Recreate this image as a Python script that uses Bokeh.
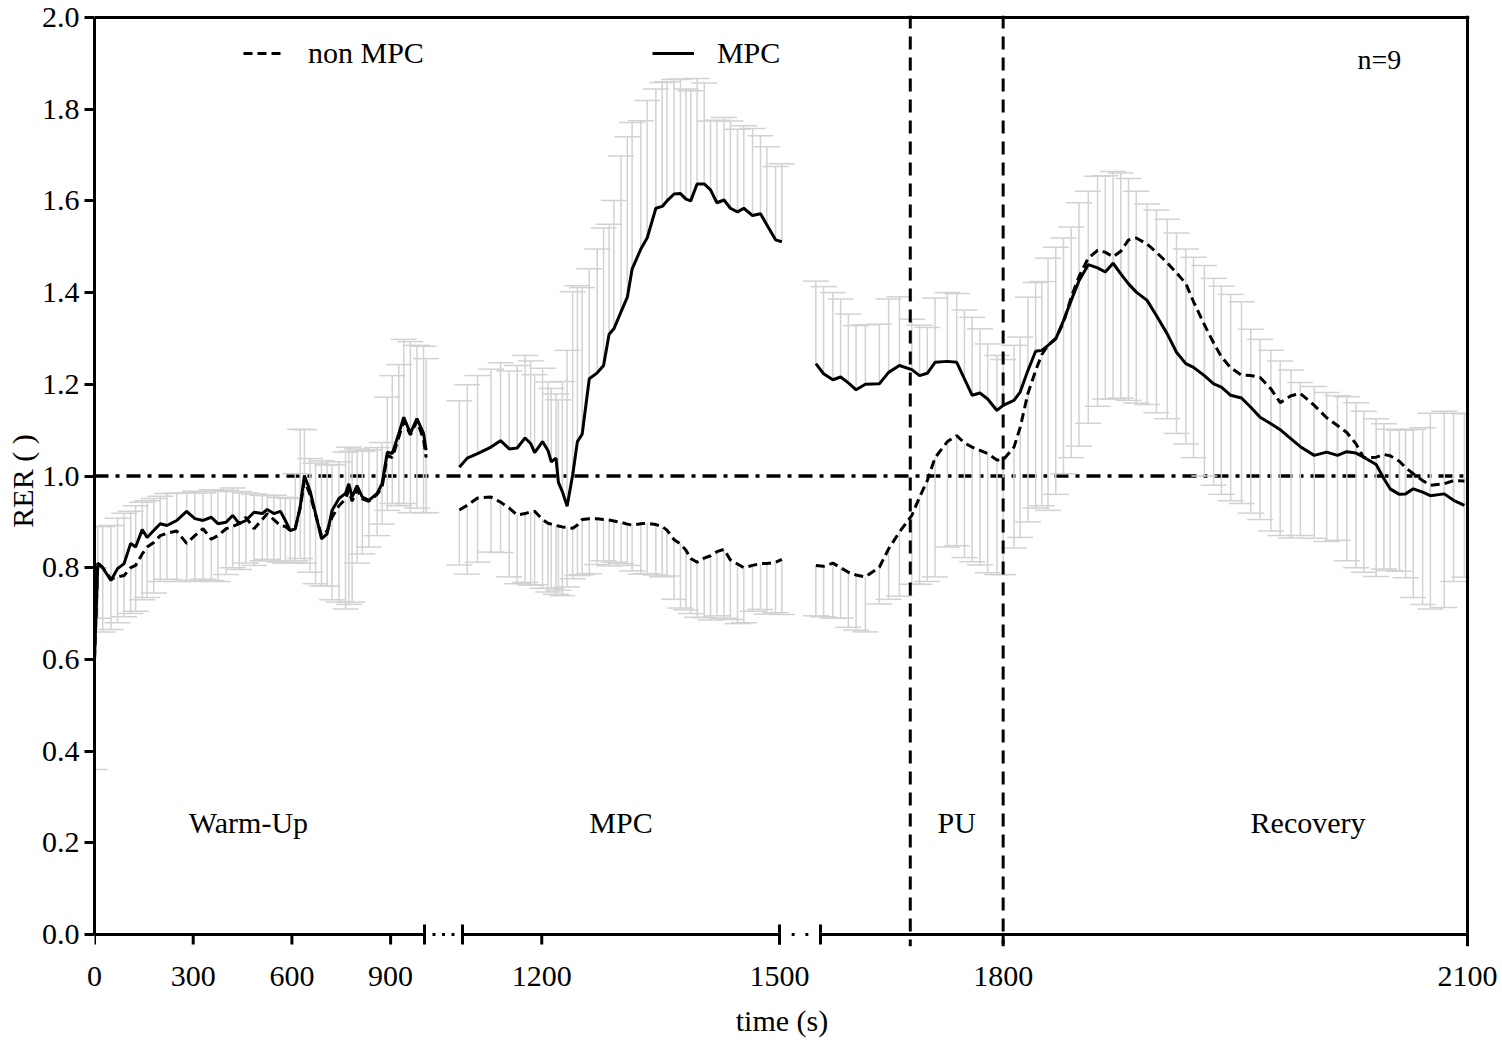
import numpy as np
from bokeh.plotting import figure
from bokeh.models import (ColumnDataSource, Whisker, TeeHead, Span, FixedTicker,
                          NumeralTickFormatter, Legend, LegendItem, Range1d)
from bokeh.core.properties import value
from bokeh.embed import file_html
from bokeh.resources import INLINE

FONT = "Liberation Serif"
GRAY = "#d2d2d2"

# ---------------- data (time in s, RER) ----------------
t_warm = [0, 10, 25, 50, 70, 90, 110, 125, 145, 160, 180, 200, 220, 250, 280, 305, 330, 355, 375, 400,
          420, 440, 460, 485, 510, 525, 545, 565, 580, 595, 610, 625, 638, 655, 672, 690, 707, 722, 743, 763,
          773, 783, 798, 814, 834, 859, 874, 890, 905, 925, 940, 960, 980, 1000, 1008]
mpc_warm = [0.60, 0.81, 0.80, 0.772, 0.798, 0.809, 0.853, 0.845, 0.883, 0.866, 0.881, 0.896, 0.892, 0.903,
            0.923, 0.907, 0.903, 0.910, 0.896, 0.899, 0.914, 0.896, 0.903, 0.921, 0.918, 0.927, 0.918, 0.923,
            0.903, 0.881, 0.885, 0.932, 1.001, 0.968, 0.918, 0.863, 0.874, 0.925, 0.951, 0.962, 0.983, 0.954,
            0.979, 0.954, 0.947, 0.962, 0.983, 1.052, 1.049, 1.093, 1.128, 1.093, 1.125, 1.093, 1.056]
mpc_warm_sd = [0.20, 0.08, 0.09, 0.12, 0.11, 0.11, 0.07, 0.09, 0.06, 0.08, 0.07, 0.06, 0.07, 0.06, 0.04,
               0.06, 0.06, 0.06, 0.07, 0.07, 0.06, 0.07, 0.06, 0.04, 0.04, 0.03, 0.04, 0.03, 0.05, 0.07,
               0.12, 0.17, 0.10, 0.07, 0.11, 0.17, 0.15, 0.10, 0.08, 0.09, 0.08, 0.10, 0.08, 0.10, 0.11,
               0.10, 0.09, 0.12, 0.17, 0.15, 0.17, 0.20, 0.16, 0.19, 0.20]
non_warm = [0.60, 0.81, 0.80, 0.775, 0.78, 0.783, 0.80, 0.805, 0.83, 0.845, 0.855, 0.87, 0.875, 0.88, 0.853,
            0.87, 0.885, 0.862, 0.87, 0.885, 0.89, 0.896, 0.91, 0.885, 0.905, 0.918, 0.905, 0.892, 0.89,
            0.881, 0.885, 0.93, 0.99, 0.96, 0.915, 0.87, 0.88, 0.91, 0.935, 0.95, 0.97, 0.945, 0.97, 0.95,
            0.945, 0.96, 0.975, 1.045, 1.04, 1.085, 1.12, 1.09, 1.12, 1.08, 1.04]
non_warm_sd = [0.24, 0.12, 0.14, 0.11, 0.10, 0.09, 0.10, 0.10, 0.10, 0.11, 0.11, 0.10, 0.10, 0.11, 0.08,
               0.10, 0.11, 0.09, 0.10, 0.10, 0.09, 0.10, 0.10, 0.08, 0.09, 0.10, 0.09, 0.08, 0.08, 0.07,
               0.07, 0.11, 0.18, 0.17, 0.15, 0.11, 0.12, 0.18, 0.21, 0.24, 0.25, 0.22, 0.16, 0.12, 0.10,
               0.09, 0.08, 0.12, 0.10, 0.15, 0.18, 0.17, 0.19, 0.16, 0.12]

t_mpc = [1096, 1106, 1119, 1136, 1148, 1159, 1169, 1179, 1186, 1191, 1201, 1208, 1212, 1218, 1221, 1226,
         1232, 1239, 1245, 1251, 1260, 1270, 1278, 1285, 1291, 1300, 1308, 1314, 1325, 1333, 1344, 1352,
         1358, 1367, 1375, 1382, 1388, 1396, 1405, 1413, 1421, 1430, 1438, 1447, 1455, 1466, 1476, 1484,
         1495, 1503]
mpc_mpc = [1.019, 1.039, 1.049, 1.063, 1.077, 1.059, 1.061, 1.083, 1.071, 1.051, 1.075, 1.055, 1.031, 1.039,
           0.986, 0.966, 0.934, 1.002, 1.075, 1.091, 1.212, 1.225, 1.241, 1.309, 1.321, 1.358, 1.390, 1.451,
           1.495, 1.519, 1.584, 1.588, 1.600, 1.615, 1.616, 1.604, 1.600, 1.637, 1.637, 1.624, 1.596, 1.602,
           1.584, 1.576, 1.584, 1.568, 1.572, 1.548, 1.515, 1.511]
mpc_mpc_sd = [0.145, 0.16, 0.17, 0.17, 0.17, 0.17, 0.18, 0.18, 0.18, 0.17, 0.16, 0.15, 0.16, 0.14, 0.18,
              0.24, 0.34, 0.40, 0.34, 0.32, 0.24, 0.27, 0.30, 0.24, 0.28, 0.34, 0.35, 0.32, 0.28, 0.30,
              0.26, 0.27, 0.26, 0.25, 0.25, 0.24, 0.24, 0.23, 0.22, 0.15, 0.18, 0.18, 0.19, 0.18, 0.18,
              0.19, 0.17, 0.17, 0.16, 0.17]
non_mpc = [0.926, 0.936, 0.952, 0.954, 0.943, 0.93, 0.915, 0.918, 0.922, 0.923, 0.905, 0.897, 0.895, 0.892,
           0.891, 0.889, 0.888, 0.886, 0.893, 0.905, 0.907, 0.907, 0.905, 0.904, 0.902, 0.899, 0.895, 0.893,
           0.896, 0.897, 0.894, 0.89, 0.882, 0.861, 0.852, 0.838, 0.82, 0.812, 0.821, 0.826, 0.835, 0.84,
           0.817, 0.808, 0.80, 0.805, 0.809, 0.809, 0.812, 0.818]
non_mpc_sd = [0.12, 0.15, 0.14, 0.12, 0.11, 0.15, 0.15, 0.15, 0.16, 0.16, 0.15, 0.15, 0.14, 0.15, 0.14,
              0.15, 0.13, 0.11, 0.11, 0.12, 0.12, 0.10, 0.09, 0.10, 0.09, 0.09, 0.09, 0.10, 0.11, 0.11,
              0.11, 0.11, 0.10, 0.13, 0.14, 0.13, 0.12, 0.12, 0.13, 0.14, 0.14, 0.15, 0.13, 0.13, 0.12,
              0.10, 0.10, 0.11, 0.11, 0.12]

t_rec = [1679, 1684, 1690, 1695, 1700, 1705, 1711, 1720, 1726, 1733, 1741, 1746, 1751, 1756, 1764, 1770,
         1775, 1780, 1785, 1790, 1796, 1800, 1807, 1811, 1816, 1821, 1825, 1829, 1834, 1839, 1844, 1849,
         1855, 1861, 1866, 1871, 1876, 1881, 1886, 1893, 1899, 1906, 1912, 1918, 1923, 1930, 1936, 1941,
         1947, 1954, 1960, 1966, 1973, 1979, 1986, 1992, 2001, 2009, 2016, 2022, 2028, 2033, 2041, 2046,
         2050, 2056, 2060, 2065, 2071, 2076, 2085, 2091, 2098]
mpc_rec = [1.245, 1.223, 1.210, 1.216, 1.203, 1.188, 1.200, 1.201, 1.226, 1.241, 1.232, 1.219, 1.224, 1.248,
           1.250, 1.248, 1.212, 1.176, 1.181, 1.168, 1.143, 1.154, 1.165, 1.183, 1.230, 1.272, 1.274, 1.285,
           1.299, 1.339, 1.383, 1.426, 1.461, 1.454, 1.445, 1.464, 1.441, 1.419, 1.401, 1.383, 1.350, 1.310,
           1.270, 1.245, 1.237, 1.219, 1.201, 1.194, 1.176, 1.170, 1.150, 1.128, 1.114, 1.101, 1.081, 1.064,
           1.045, 1.052, 1.045, 1.053, 1.050, 1.041, 1.025, 0.994, 0.972, 0.960, 0.961, 0.972, 0.965, 0.957,
           0.961, 0.947, 0.936]
mpc_rec_sd = [0.18, 0.19, 0.19, 0.17, 0.15, 0.14, 0.13, 0.13, 0.16, 0.15, 0.11, 0.11, 0.10, 0.14, 0.15,
              0.15, 0.15, 0.17, 0.14, 0.12, 0.12, 0.10, 0.12, 0.12, 0.16, 0.15, 0.15, 0.19, 0.20, 0.18,
              0.16, 0.17, 0.16, 0.20, 0.21, 0.20, 0.22, 0.23, 0.22, 0.21, 0.23, 0.25, 0.26, 0.25, 0.24,
              0.24, 0.23, 0.22, 0.22, 0.21, 0.17, 0.17, 0.16, 0.15, 0.15, 0.14, 0.15, 0.13, 0.13, 0.12,
              0.11, 0.10, 0.10, 0.12, 0.13, 0.14, 0.14, 0.13, 0.14, 0.18, 0.18, 0.19, 0.20]
non_rec = [0.805, 0.803, 0.810, 0.80, 0.79, 0.784, 0.780, 0.801, 0.841, 0.878, 0.914, 0.954, 0.99, 1.04,
           1.075, 1.088, 1.072, 1.063, 1.056, 1.049, 1.035, 1.035, 1.063, 1.106, 1.18, 1.230, 1.265, 1.285,
           1.30, 1.335, 1.39, 1.435, 1.475, 1.492, 1.488, 1.478, 1.49, 1.515, 1.519, 1.506, 1.488, 1.465,
           1.443, 1.42, 1.38, 1.33, 1.29, 1.26, 1.236, 1.22, 1.219, 1.215, 1.19, 1.16, 1.175, 1.18, 1.154,
           1.127, 1.11, 1.095, 1.07, 1.04, 1.041, 1.047, 1.044, 1.032, 1.018, 1.005, 0.99, 0.98, 0.983,
           0.99, 0.989]
non_rec_sd = [0.11, 0.11, 0.12, 0.11, 0.12, 0.12, 0.12, 0.08, 0.11, 0.14, 0.15, 0.19, 0.22, 0.26, 0.23,
              0.24, 0.25, 0.25, 0.25, 0.26, 0.25, 0.25, 0.22, 0.24, 0.28, 0.30, 0.33, 0.36, 0.34, 0.33,
              0.35, 0.37, 0.36, 0.34, 0.32, 0.31, 0.32, 0.35, 0.36, 0.35, 0.35, 0.34, 0.35, 0.35, 0.34,
              0.33, 0.31, 0.30, 0.29, 0.28, 0.30, 0.31, 0.31, 0.29, 0.31, 0.31, 0.29, 0.27, 0.25, 0.28,
              0.27, 0.25, 0.26, 0.25, 0.25, 0.24, 0.24, 0.27, 0.27, 0.27, 0.27, 0.22, 0.21]

x_tick_times = [0, 300, 600, 900, 1200, 1500, 1800, 2100]
y_ticks = [0.0, 0.2, 0.4, 0.6, 0.8, 1.0, 1.2, 1.4, 1.6, 1.8, 2.0]
phase_names = ["Warm-Up", "MPC", "PU", "Recovery"]
phase_times = [468, 1300, 1770, 1997]
pu_bounds = [1740, 1800]

# ---------------- broken time axis ----------------
# (t_start, t_end, axis_start, axis_end) of each piece of the broken axis, axis units = screen px
SEGMENTS = [(0, 1003, 0, 330), (1100, 1500, 368, 685), (1682, 2100, 726, 1373)]
SEG_LIMITS = [1050, 1600, 1e9]
AX_LEN = 1373
PX_PER_Y = 458.5            # screen px per RER unit
PAD_BOTTOM_PX = 12          # frame room below RER = 0 for the broken axis line
PAD_TOP_PX = 2
PAD_RIGHT_PX = 2


def vx(t):
    t = np.atleast_1d(np.asarray(t, dtype=float))
    out = np.empty_like(t)
    lo = -np.inf
    for (t0, t1, v0, v1), hi in zip(SEGMENTS, SEG_LIMITS):
        m = (t >= lo) & (t < hi)
        out[m] = v0 + (t[m] - t0) * (v1 - v0) / (t1 - t0)
        lo = hi
    return out


def joined(parts):
    out = []
    for i, part in enumerate(parts):
        if i:
            out.append(np.nan)
        out.extend(part)
    return np.array(out, dtype=float)


T = [t_warm, t_mpc, t_rec]
MPC = [mpc_warm, mpc_mpc, mpc_rec]
MPC_SD = [mpc_warm_sd, mpc_mpc_sd, mpc_rec_sd]
NON = [non_warm, non_mpc, non_rec]
NON_SD = [non_warm_sd, non_mpc_sd, non_rec_sd]

t_all = np.concatenate([np.array(a, float) for a in T])
mpc_all = np.concatenate([np.array(a, float) for a in MPC])
mpc_sd_all = np.concatenate([np.array(a, float) for a in MPC_SD])
non_all = np.concatenate([np.array(a, float) for a in NON])
non_sd_all = np.concatenate([np.array(a, float) for a in NON_SD])

W, H = 1500, 1045
FRAME_LEFT, FRAME_TOP = 94, 15
frame_w = AX_LEN + PAD_RIGHT_PX
frame_h = int(2 * PX_PER_Y) + PAD_BOTTOM_PX + PAD_TOP_PX

p = figure(width=W, height=H, output_backend="svg", toolbar_location=None,
           x_range=Range1d(0, AX_LEN + PAD_RIGHT_PX),
           y_range=Range1d(-PAD_BOTTOM_PX / PX_PER_Y, 2.0 + PAD_TOP_PX / PX_PER_Y),
           min_border_left=FRAME_LEFT, min_border_top=FRAME_TOP,
           min_border_right=W - FRAME_LEFT - frame_w, min_border_bottom=H - FRAME_TOP - frame_h)
p.outline_line_color = None
p.grid.visible = False
p.background_fill_color = "white"
p.border_fill_color = "white"

# reference line RER = 1
p.add_layout(Span(location=1.0, dimension="width", line_color="black", line_width=3.5,
                  line_dash="14 7 4 7", level="underlay"))

# error bars (MPC above, non MPC below)
src_m = ColumnDataSource(dict(x=vx(t_all), lo=mpc_all, hi=mpc_all + mpc_sd_all))
src_n = ColumnDataSource(dict(x=vx(t_all), lo=non_all - non_sd_all, hi=non_all))
p.add_layout(Whisker(source=src_m, base="x", lower="lo", upper="hi", line_color=GRAY, line_width=1.5,
                     upper_head=TeeHead(size=26, line_color=GRAY, line_width=1.5), lower_head=None,
                     level="underlay"))
p.add_layout(Whisker(source=src_n, base="x", lower="lo", upper="hi", line_color=GRAY, line_width=1.5,
                     lower_head=TeeHead(size=26, line_color=GRAY, line_width=1.5), upper_head=None,
                     level="underlay"))

# mean curves
x_line = joined([vx(a) for a in T])
r_non = p.line(x_line, joined(NON), line_color="black", line_width=3, line_dash="9 5")
r_mpc = p.line(x_line, joined(MPC), line_color="black", line_width=3)

# phase borders of PU
for tb in pu_bounds:
    p.add_layout(Span(location=float(vx(tb)[0]), dimension="height", line_color="black",
                      line_width=3, line_dash="13 8"))

# frame top / right
p.add_layout(Span(location=2.0, dimension="width", line_color="black", line_width=3))
p.add_layout(Span(location=AX_LEN, dimension="height", line_color="black", line_width=3))

# broken x axis: line pieces, end caps, dots and ticks
tick_len = 10 / PX_PER_Y
cap_half = 10 / PX_PER_Y
p.segment(x0=[float(vx(s[0])[0]) for s in SEGMENTS], x1=[float(vx(s[1])[0]) for s in SEGMENTS],
          y0=[0.0] * 3, y1=[0.0] * 3, line_color="black", line_width=3)
cap_x = [SEGMENTS[0][3], SEGMENTS[1][2], SEGMENTS[1][3], SEGMENTS[2][2]]
p.segment(x0=cap_x, x1=cap_x, y0=[-cap_half] * 4, y1=[cap_half] * 4, line_color="black", line_width=3)
dots = []
for (a, b, n) in [(SEGMENTS[0][3], SEGMENTS[1][2], 3), (SEGMENTS[1][3], SEGMENTS[2][2], 2)]:
    dots += [a + (b - a) * k / (n + 1) for k in range(1, n + 1)]
p.segment(x0=[d - 1.5 for d in dots], x1=[d + 1.5 for d in dots], y0=[0.0] * len(dots),
          y1=[0.0] * len(dots), line_color="black", line_width=3)
xt = [float(v) for v in vx(x_tick_times)]
p.segment(x0=xt, x1=xt, y0=[0.0] * len(xt), y1=[-tick_len] * len(xt), line_color="black", line_width=3)

# x axis (labels only)
xa = p.xaxis[0]
xa.ticker = FixedTicker(ticks=xt)
xa.major_label_overrides = {v: str(t) for v, t in zip(xt, x_tick_times)}
xa.axis_line_color = None
xa.major_tick_line_color = None
xa.major_tick_out = 0
xa.major_tick_in = 0
xa.minor_tick_line_color = None
xa.major_label_text_font = FONT
xa.major_label_text_font_size = "30px"
xa.major_label_text_color = "black"
xa.major_label_standoff = 20
xa.axis_label = "time (s)"
xa.axis_label_text_font = FONT
xa.axis_label_text_font_size = "30px"
xa.axis_label_text_font_style = "normal"
xa.axis_label_text_color = "black"
xa.axis_label_standoff = 15

# y axis
ya = p.yaxis[0]
ya.ticker = FixedTicker(ticks=y_ticks)
ya.formatter = NumeralTickFormatter(format="0.0")
ya.bounds = (0, 2)
ya.axis_line_width = 3
ya.axis_line_color = "black"
ya.major_tick_out = 10
ya.major_tick_in = 0
ya.major_tick_line_width = 3
ya.minor_tick_line_color = None
ya.major_label_text_font = FONT
ya.major_label_text_font_size = "30px"
ya.major_label_text_color = "black"
ya.major_label_standoff = 5
ya.axis_label = "RER ( )"
ya.axis_label_text_font = FONT
ya.axis_label_text_font_size = "30px"
ya.axis_label_text_font_style = "normal"
ya.axis_label_text_color = "black"
ya.axis_label_standoff = 0

# phase labels and n
p.text(x=vx(phase_times), y=[0.244] * 4, text=phase_names, text_font=value(FONT),
       text_font_size="30px", text_align="center", text_baseline="middle", text_color="black")
p.text(x=vx([2043]), y=[1.908], text=["n=9"], text_font=value(FONT), text_font_size="28px",
       text_align="center", text_baseline="middle", text_color="black")

legend = Legend(items=[LegendItem(label="non MPC", renderers=[r_non]),
                       LegendItem(label="MPC", renderers=[r_mpc])],
                location=(149, frame_h - 2 - 36 - 17), orientation="horizontal", spacing=228,
                glyph_width=42, glyph_height=20, label_standoff=23, padding=0, margin=0,
                border_line_color=None, background_fill_alpha=0, label_text_font=FONT,
                label_text_font_size="30px", label_text_color="black")
p.add_layout(legend)

open("out.html", "w").write(file_html(p, INLINE))
